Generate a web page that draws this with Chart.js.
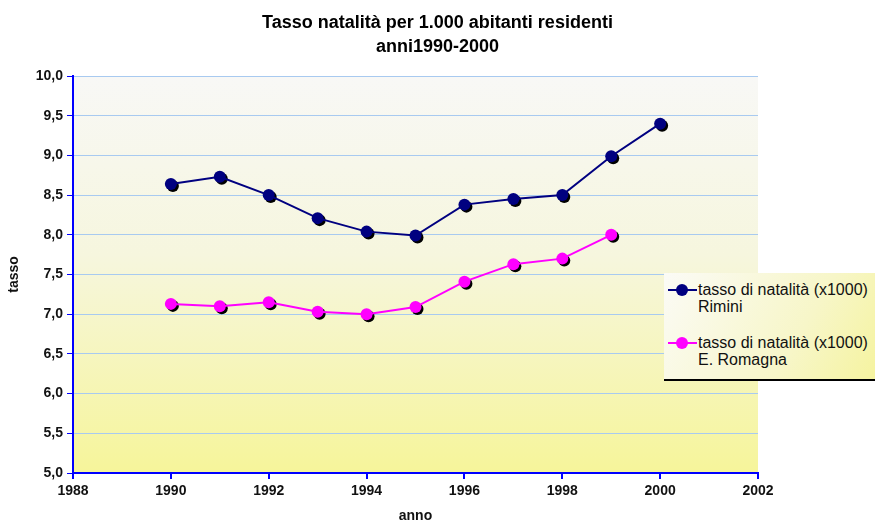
<!DOCTYPE html>
<html>
<head>
<meta charset="utf-8">
<script src="https://cdn.jsdelivr.net/npm/chart.js@4.4.1/dist/chart.umd.min.js"></script>
<style>
  html, body { margin: 0; padding: 0; background: #fff; }
  #wrap { position: relative; width: 875px; height: 525px; overflow: hidden; }
  #titolo {
    position: absolute; left: 0; top: 10px; width: 875px; text-align: center;
    font-family: "Liberation Sans", Arial, sans-serif; font-size: 18px; font-weight: bold;
    line-height: 24px; color: #000;
  }
  #legenda {
    position: absolute; left: 664px; top: 273px; width: 225px; height: 106px;
    background: linear-gradient(120deg, #fbfbf6 0%, #f7f6c8 60%, #f5f39a 100%);
    border-bottom: 2px solid #000;
    font-family: "Liberation Sans", Arial, sans-serif; font-size: 16px; color: #111;
  }
  #legenda .voce { position: absolute; left: 4px; line-height: 17px; }
  #legenda .segno { position: absolute; left: 0; top: 8px; width: 29px; height: 2px; }
  #legenda .pallino { position: absolute; left: 8px; top: -5px; width: 12px; height: 12px; border-radius: 50%; }
  #legenda .testo { position: absolute; left: 30px; top: 0; white-space: nowrap; }
</style>
</head>
<body>
<div id="wrap">
  <canvas id="grafico" width="875" height="525"></canvas>
  <div id="titolo"></div>
  <div id="legenda">
    <div class="voce" style="top:8px">
      <div class="segno" style="background:#000080"><div class="pallino" style="background:#000080"></div></div>
      <div class="testo">tasso di natalità (x1000)<br>Rimini</div>
    </div>
    <div class="voce" style="top:61px">
      <div class="segno" style="background:#ff00ff"><div class="pallino" style="background:#ff00ff"></div></div>
      <div class="testo">tasso di natalità (x1000)<br>E. Romagna</div>
    </div>
  </div>
</div>
<script>
// Dati
const anni = [1990, 1991, 1992, 1993, 1994, 1995, 1996, 1997, 1998, 1999, 2000];
const tassoRimini = [8.64, 8.73, 8.50, 8.21, 8.04, 7.99, 8.38, 8.45, 8.50, 8.99, 9.40];
const tassoRomagna = [7.13, 7.10, 7.15, 7.03, 7.00, 7.09, 7.41, 7.63, 7.70, 8.00];
const titolo = ['Tasso natalità per 1.000 abitanti residenti', 'anni1990-2000'];

const font = '"Liberation Sans", Arial, sans-serif';

document.getElementById('titolo').innerHTML = titolo.join('<br>');

function punti(valori) {
    return valori.map((v, i) => ({ x: anni[i], y: v }));
}

// Sfondo sfumato dell'area del grafico
const sfondo = {
    id: 'sfondo',
    beforeDraw(chart) {
        const { ctx, chartArea: a } = chart;
        const g = ctx.createLinearGradient(0, a.top, 0, a.bottom);
        g.addColorStop(0, '#f8f8f6');
        g.addColorStop(0.45, '#f6f6de');
        g.addColorStop(1, '#f6f59a');
        ctx.save();
        ctx.fillStyle = g;
        ctx.fillRect(a.left, a.top, a.right - a.left, a.bottom - a.top);
        ctx.restore();
    }
};

// Ombra nera dietro i marcatori
const ombre = {
    id: 'ombre',
    beforeDatasetDraw(chart, args) {
        const ctx = chart.ctx;
        ctx.save();
        ctx.fillStyle = '#000';
        args.meta.data.forEach(p => {
            ctx.beginPath();
            ctx.arc(p.x + 2, p.y + 2, 6, 0, Math.PI * 2);
            ctx.fill();
        });
        ctx.restore();
    }
};

new Chart(document.getElementById('grafico'), {
    type: 'line',
    data: {
        datasets: [
            {
                label: 'tasso di natalità (x1000) Rimini',
                data: punti(tassoRimini),
                borderColor: '#000080',
                backgroundColor: '#000080',
                borderWidth: 2,
                pointRadius: 6,
                pointBorderWidth: 0,
                tension: 0
            },
            {
                label: 'tasso di natalità (x1000) E. Romagna',
                data: punti(tassoRomagna),
                borderColor: '#ff00ff',
                backgroundColor: '#ff00ff',
                borderWidth: 2,
                pointRadius: 6,
                pointBorderWidth: 0,
                tension: 0
            }
        ]
    },
    options: {
        responsive: false,
        animation: false,
        layout: { padding: { top: 76, right: 117, bottom: 0, left: 0 } },
        plugins: {
            legend: { display: false },
            tooltip: { enabled: false },
            title: { display: false }
        },
        scales: {
            x: {
                type: 'linear',
                min: 1988,
                max: 2002,
                ticks: {
                    stepSize: 2,
                    color: '#111',
                    font: { family: font, size: 14, weight: 'bold' },
                    padding: 4,
                    callback: v => String(v)
                },
                grid: { drawOnChartArea: false, tickColor: '#0000ff', tickLength: 6, lineWidth: 2 },
                border: { color: '#0000ff', width: 2 },
                title: {
                    display: true,
                    text: 'anno',
                    color: '#111',
                    font: { family: font, size: 14, weight: 'bold' },
                    padding: { top: 0, bottom: 0 }
                },
                afterFit(scale) { scale.height = 52; }
            },
            y: {
                min: 5,
                max: 10,
                ticks: {
                    stepSize: 0.5,
                    color: '#111',
                    font: { family: font, size: 14, weight: 'bold' },
                    padding: 4,
                    callback: v => v.toFixed(1).replace('.', ',')
                },
                grid: { color: '#a8caf0', tickColor: '#0000ff', tickLength: 6, lineWidth: 1 },
                border: { color: '#0000ff', width: 2 },
                title: {
                    display: true,
                    text: 'tasso',
                    color: '#111',
                    font: { family: font, size: 14, weight: 'bold' },
                    padding: { top: 6, bottom: 0 }
                },
                afterFit(scale) { scale.width = 73; }
            }
        }
    },
    plugins: [sfondo, ombre]
});
</script>
</body>
</html>
